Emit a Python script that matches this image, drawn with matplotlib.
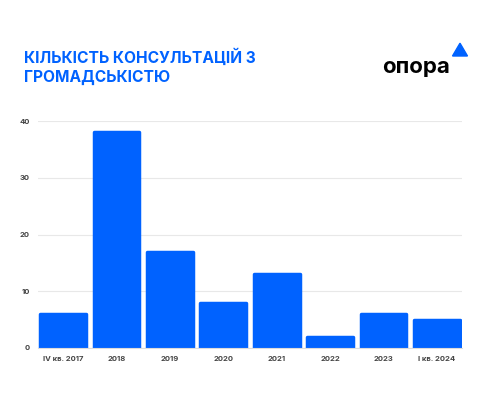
import matplotlib.pyplot as plt
from matplotlib.patches import Polygon

categories = ['IV кв. 2017', '2018', '2019', '2020', '2021', '2022', '2023', 'I кв. 2024']
values = [6, 38, 17, 8, 13, 2, 6, 5]
yticks = [0, 10, 20, 30, 40]

blue = '#0062ff'
plt.rcParams['font.family'] = ['Inter', 'DejaVu Sans']

fig = plt.figure(figsize=(5, 4), dpi=100)
ax = fig.add_axes([0.076, 0.13, 0.848, 0.5675])

x = range(len(categories))
ax.bar(x, values, width=0.86, color=blue, edgecolor=blue, linewidth=2.5,
       joinstyle='round', zorder=3)

ax.set_xlim(-0.47, len(categories) - 0.53)
ax.set_ylim(0, 40)
ax.set_yticks(yticks)
ax.set_xticks(list(x))
ax.set_xticklabels(categories)
ax.grid(axis='y', color='#e8e8e8', linewidth=0.8, zorder=0)
for s in ['top', 'right', 'left']:
    ax.spines[s].set_visible(False)
ax.spines['bottom'].set_color('#dcdcdc')
ax.spines['bottom'].set_zorder(4)
ax.tick_params(length=0, labelsize=5.5, colors='#444444', pad=6)
for lab in ax.get_xticklabels() + ax.get_yticklabels():
    lab.set_fontweight('bold')

fig.text(0.048, 0.878, 'КІЛЬКІСТЬ КОНСУЛЬТАЦІЙ З\nГРОМАДСЬКІСТЮ', color=blue,
         fontsize=11.2, fontweight='bold', va='top', ha='left', linespacing=1.3)

# logo
fig.text(0.765, 0.832, 'опора', color='black', fontsize=16, fontweight='bold',
         va='center', ha='left')
fig.patches.append(Polygon([[0.905, 0.86], [0.935, 0.86], [0.92, 0.892]],
                           closed=True, transform=fig.transFigure,
                           color=blue, figure=fig))

fig.savefig('out.png', dpi=100)
